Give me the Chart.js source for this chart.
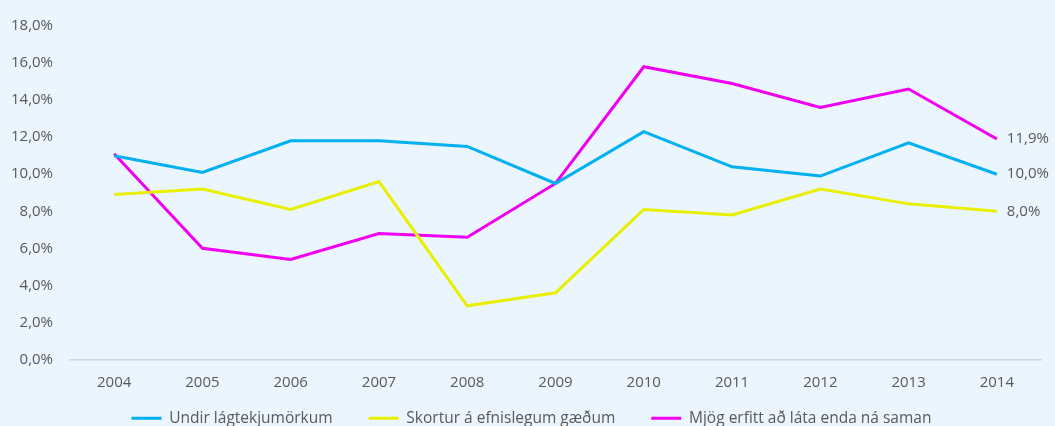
<!DOCTYPE html>
<html>
<head>
<meta charset="utf-8">
<script src="https://cdn.jsdelivr.net/npm/chart.js@4"></script>
<style>
  html, body { margin: 0; padding: 0; background: #EAF5FD; overflow: hidden; }
  #wrap { width: 1055px; height: 467px; }
</style>
</head>
<body>
<div id="wrap"><canvas id="lineChart"></canvas></div>
<script>
// Gögn
const years = ['2004', '2005', '2006', '2007', '2008', '2009', '2010', '2011', '2012', '2013', '2014'];
const undirLagtekju = [11.0, 10.1, 11.8, 11.8, 11.5, 9.5, 12.3, 10.4, 9.9, 11.7, 10.0];
const skortur = [8.9, 9.2, 8.1, 9.6, 2.9, 3.6, 8.1, 7.8, 9.2, 8.4, 8.0];
const mjogErfitt = [11.1, 6.0, 5.4, 6.8, 6.6, 9.5, 15.8, 14.9, 13.6, 14.6, 11.9];
const seriesNames = ['Undir lágtekjumörkum', 'Skortur á efnislegum gæðum', 'Mjög erfitt að láta enda ná saman'];
const seriesColors = ['#00B0F0', '#E8F000', '#F000F0'];

const fmt = v => v.toFixed(1).replace('.', ',') + '%';
const fontFamily = '"Open Sans", sans-serif';

// merkingar við síðasta punkt
const endLabels = {
    id: 'endLabels',
    afterDatasetsDraw(chart) {
        const ctx = chart.ctx;
        ctx.save();
        ctx.font = '15px ' + fontFamily;
        ctx.fillStyle = '#595959';
        ctx.textBaseline = 'middle';
        chart.data.datasets.forEach((ds, i) => {
            const meta = chart.getDatasetMeta(i);
            const last = meta.data[meta.data.length - 1];
            ctx.fillText(fmt(ds.data[ds.data.length - 1]), last.x + 10, last.y);
        });
        ctx.restore();
    }
};

// færir skýringuna aðeins upp og til hægri
const legendShift = {
    id: 'legendShift',
    afterLayout(chart) {
        const lg = chart.legend;
        lg.top -= 31; lg.bottom -= 31;
        lg.left += 11; lg.right += 11;
    }
};

const allSeries = [undirLagtekju, skortur, mjogErfitt];

new Chart(document.getElementById('lineChart'), {
    type: 'line',
    data: {
        labels: years,
        datasets: allSeries.map((d, i) => ({
            label: seriesNames[i],
            data: d,
            borderColor: seriesColors[i],
            backgroundColor: seriesColors[i],
            borderWidth: 3,
            pointRadius: 0,
            tension: 0
        }))
    },
    options: {
        responsive: true,
        maintainAspectRatio: false,
        animation: false,
        layout: { padding: { top: 18, right: 14, left: 0, bottom: 0 } },
        scales: {
            x: {
                offset: true,
                grid: { display: false, drawTicks: false },
                border: { display: true, color: '#D0D7DE', width: 1.5 },
                ticks: { color: '#595959', font: { family: fontFamily, size: 15 }, padding: 14 }
            },
            y: {
                min: 0,
                max: 18,
                grid: { display: false, drawTicks: false },
                border: { display: false },
                afterFit(scale) { scale.width = 70; },
                ticks: {
                    stepSize: 2,
                    padding: 17,
                    color: '#595959',
                    font: { family: fontFamily, size: 15 },
                    callback: v => fmt(v)
                }
            }
        },
        plugins: {
            legend: {
                position: 'bottom',
                labels: {
                    boxWidth: 30,
                    boxHeight: 3,
                    padding: 36,
                    color: '#595959',
                    font: { family: fontFamily, size: 15.5 },
                    generateLabels(chart) {
                        const items = Chart.defaults.plugins.legend.labels.generateLabels(chart);
                        items.forEach(it => { it.lineWidth = 0; });
                        return items;
                    }
                }
            },
            tooltip: { enabled: false }
        }
    },
    plugins: [endLabels, legendShift]
});
</script>
</body>
</html>
